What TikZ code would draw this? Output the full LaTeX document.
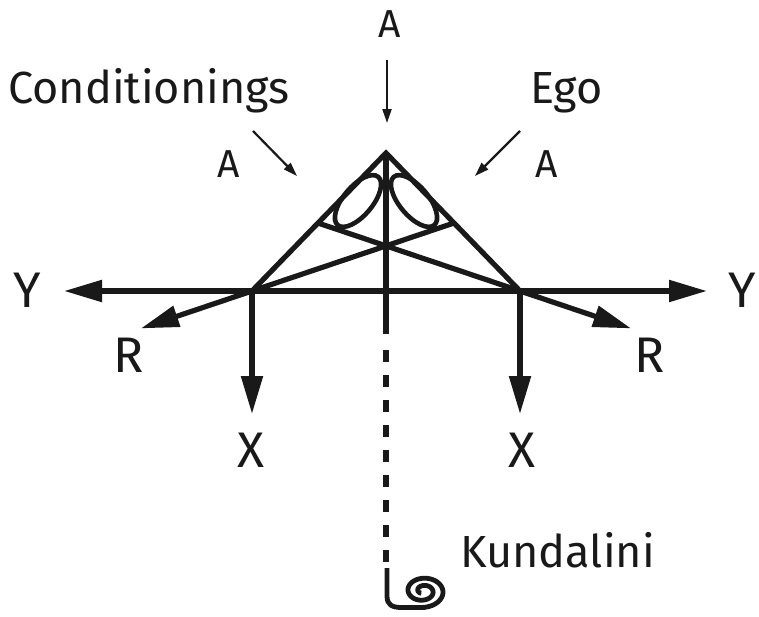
\documentclass[tikz,border=0pt]{standalone}
\usepackage{fontspec}
\setmainfont{Fira Sans}
\usetikzlibrary{arrows.meta,calc,shapes.geometric}
\tikzset{
  thick line/.style={line width=5.2pt, draw=black!90},
  big/.style={thick line, -{Triangle[length=38pt,width=21pt]}},
  small/.style={line width=2.2pt, draw=black!90, -{Triangle[length=14pt,width=9pt]}},
  letter/.style={inner sep=0pt, text=black!90, font=\fontsize{50}{50}\selectfont},
  word/.style={inner sep=0pt, text=black!90, font=\fontsize{45}{45}\selectfont},
  smallA/.style={inner sep=0pt, text=black!90, font=\fontsize{39}{39}\selectfont},
  oval/.style={draw=black!90, ellipse, line width=4.6pt, minimum width=63pt, minimum height=29pt, inner sep=0pt},
}
\begin{document}
\begin{tikzpicture}[x=1pt,y=-1pt]
\useasboundingbox (0,0) rectangle (759,616);
% key points
\coordinate (A) at (386,153);
\coordinate (BL) at (252,291);
\coordinate (BR) at (520,291);
\coordinate (PL) at (318,223);
\coordinate (PR) at (454,223);
\coordinate (YL) at (64,291);
\coordinate (YR) at (707,291);
\coordinate (XL) at (252,414);
\coordinate (XR) at (520,414);
\coordinate (RL) at ($(PR)!1.55!(BL)$);
\coordinate (RR) at ($(PL)!1.55!(BR)$);
\coordinate (mid) at (386,334);
\coordinate (d0) at (386,350);
\coordinate (d1) at (386,563);
\coordinate (s0) at (387,568);
\coordinate (s1) at (387,596);
% top arrow A
\coordinate (ta0) at (387,60);
\coordinate (ta1) at (387,123);
\coordinate (la0) at (253,131);
\coordinate (la1) at (297,176);
\coordinate (ra0) at (520,131);
\coordinate (ra1) at (475,176);

% main horizontal
\draw[thick line, {Triangle[length=38pt,width=21pt]}-{Triangle[length=38pt,width=21pt]}] (YL) -- (YR);
% triangle
\draw[thick line] (BL) -- (A) -- (BR);
% inner crossing lines extended into R arrows
\draw[big] (PR) -- (RL);
\draw[big] (PL) -- (RR);
% X arrows
\draw[big] (BL) -- (XL);
\draw[big] (BR) -- (XR);
% vertical axis
\draw[thick line] (A) -- (mid);
\draw[line width=5.8pt, draw=black!90, dash pattern=on 12pt off 13pt] (d0) -- (d1);
% spiral
\draw[thick line, line width=4.8pt] (s0) -- (s1) .. controls (387,605) and (392,607.5) .. (402,607.5) -- (423,607.5)
  -- plot[domain=90:-600, samples=160, smooth] ({423+1.12*(20-17*(90-\x)/690)*cos(\x)}, {591+0.82*(20-17*(90-\x)/690)*sin(\x)});
% ellipses
\node[oval, rotate=50] (eL) at (358,201) {};
\node[oval, rotate=-50] (eR) at (414,201) {};
% thin arrows
\draw[small] (ta0) -- (ta1);
\draw[small] (la0) -- (la1);
\draw[small] (ra0) -- (ra1);
% labels
\node[smallA, anchor=base] (tA) at (389.5,37) {A};
\node[word, anchor=base west] (cond) at (8,103) {Conditionings};
\node[word, anchor=base west] (ego) at (530,103) {Ego};
\node[smallA, anchor=base] (lA) at (228.5,177) {A};
\node[smallA, anchor=base] (rA) at (546.5,177) {A};
\node[letter, anchor=base] (lY) at (27,307) {Y};
\node[letter, anchor=base] (rY) at (742,307) {Y};
\node[letter, anchor=base] (lR) at (129,372) {R};
\node[letter, anchor=base] (rR) at (650,372) {R};
\node[letter, anchor=base] (lX) at (251,467) {X};
\node[letter, anchor=base] (rX) at (522,467) {X};
\node[word, anchor=base west] (kund) at (460,567) {Kundalini};
\end{tikzpicture}
\end{document}
